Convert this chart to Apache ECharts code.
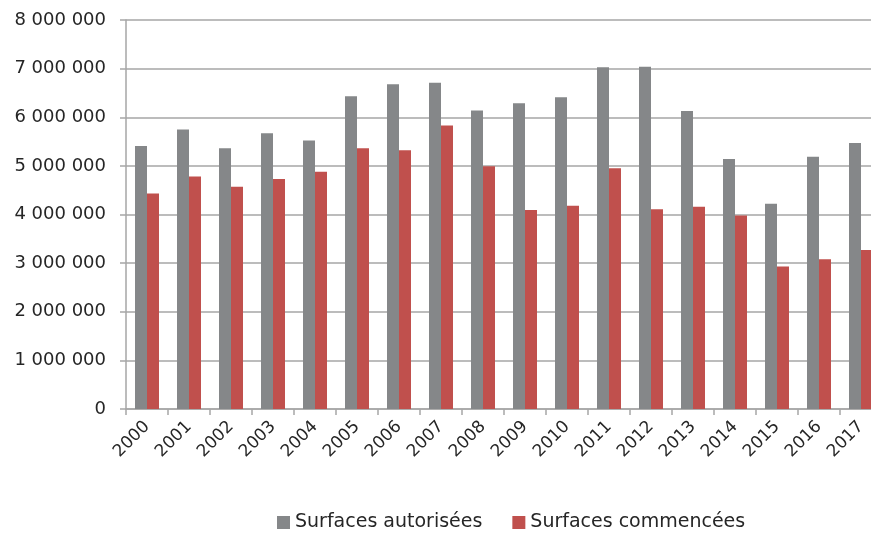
<!DOCTYPE html>
<html>
<head>
<meta charset="utf-8">
<script src="https://cdn.jsdelivr.net/npm/echarts@6/dist/echarts.min.js"></script>
<style>
  html, body { margin: 0; padding: 0; background: #fff; overflow: hidden; }
  /* the plot runs past the right edge of the picture, as in the original */
  #chart { width: 882px; height: 533px; }
</style>
</head>
<body>
<div id="chart"></div>
<script>
const years = ['2000', '2001', '2002', '2003', '2004', '2005', '2006', '2007', '2008',
  '2009', '2010', '2011', '2012', '2013', '2014', '2015', '2016', '2017'];

const autorisees = [5410000, 5750000, 5360000, 5670000, 5520000, 6430000, 6680000, 6710000, 6140000,
  6290000, 6410000, 7030000, 7040000, 6130000, 5140000, 4220000, 5190000, 5470000];

const commencees = [4430000, 4780000, 4570000, 4730000, 4880000, 5360000, 5320000, 5830000, 4990000,
  4090000, 4180000, 4950000, 4110000, 4160000, 3980000, 2930000, 3080000, 3270000];

const seriesNames = ['Surfaces autorisées', 'Surfaces commencées'];

const chart = echarts.init(document.getElementById('chart'));

function fmt(v) {
  return String(v).replace(/\B(?=(\d{3})+(?!\d))/g, ' ');
}

const font = '"DejaVu Sans", sans-serif';
const textColor = '#262626';

const option = {
  animation: false,
  color: ['#858789', '#c0504d'],
  grid: {
    left: 126,
    right: 0,
    top: 20,
    bottom: 124
  },
  legend: {
    top: 508,
    left: 272,
    itemWidth: 13,
    itemHeight: 13,
    itemGap: 30,
    icon: 'rect',
    textStyle: { fontFamily: font, fontSize: 19, color: textColor },
    data: seriesNames
  },
  xAxis: {
    type: 'category',
    data: years,
    axisLine: { lineStyle: { color: '#a6a6a6', width: 1.5 } },
    axisTick: { show: true, length: 6, lineStyle: { color: '#a6a6a6', width: 1.5 } },
    axisLabel: {
      rotate: 45,
      margin: 15,
      fontFamily: font,
      fontSize: 17,
      color: textColor
    }
  },
  yAxis: {
    type: 'value',
    min: 0,
    max: 8000000,
    interval: 1000000,
    axisLine: { show: true, lineStyle: { color: '#a6a6a6', width: 1.5 } },
    axisTick: { show: true, length: 6, lineStyle: { color: '#a6a6a6', width: 1.5 } },
    splitLine: { lineStyle: { color: '#a6a6a6', width: 1.5 } },
    axisLabel: {
      margin: 20,
      fontFamily: font,
      fontSize: 18,
      color: textColor,
      formatter: fmt
    }
  },
  series: [
    {
      name: seriesNames[0],
      type: 'bar',
      data: autorisees,
      barWidth: 12,
      barGap: '0%'
    },
    {
      name: seriesNames[1],
      type: 'bar',
      data: commencees,
      barWidth: 12,
      barGap: '0%'
    }
  ]
};

chart.setOption(option);
</script>
</body>
</html>
